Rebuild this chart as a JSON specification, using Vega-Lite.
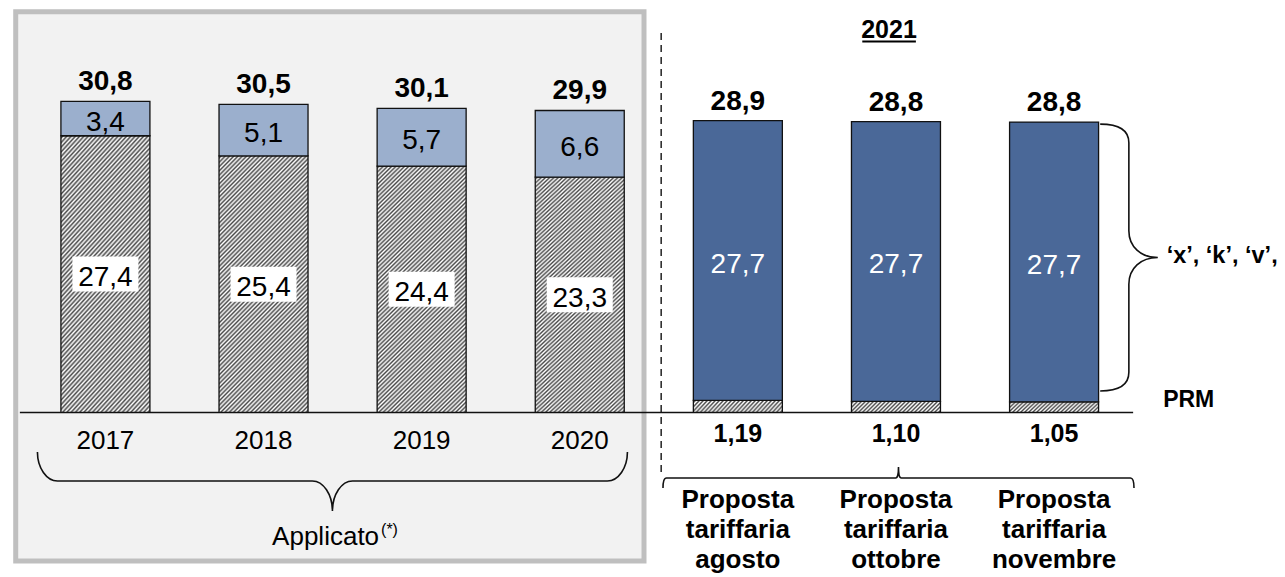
{
"$schema": "https://vega.github.io/schema/vega-lite/v6.json",
"width": 1285, "height": 577,
"autosize": {"type": "fit", "contains": "padding"},
"padding": 0,
"background": "white",
"config": {"view": {"stroke": null}, "font": "Liberation Sans", "axis": {"disable": true},
  "locale": {"number": {"decimal": ",", "thousands": ".", "grouping": [3], "currency": ["€", ""]}}},
"datasets": {
 "seg": [
  {"i":0,"part":"base","value":27.4},{"i":0,"part":"top","value":3.4},
  {"i":1,"part":"base","value":25.4},{"i":1,"part":"top","value":5.1},
  {"i":2,"part":"base","value":24.4},{"i":2,"part":"top","value":5.7},
  {"i":3,"part":"base","value":23.3},{"i":3,"part":"top","value":6.6},
  {"i":4,"part":"base","value":1.19},{"i":4,"part":"top","value":27.7},
  {"i":5,"part":"base","value":1.10},{"i":5,"part":"top","value":27.7},
  {"i":6,"part":"base","value":1.05},{"i":6,"part":"top","value":27.7}
 ],
 "tot": [
  {"i":0,"total":30.8,"name":"2017"},
  {"i":1,"total":30.5,"name":"2018"},
  {"i":2,"total":30.1,"name":"2019"},
  {"i":3,"total":29.9,"name":"2020"},
  {"i":4,"total":28.9,"name":"Proposta\ntariffaria\nagosto"},
  {"i":5,"total":28.8,"name":"Proposta\ntariffaria\nottobre"},
  {"i":6,"total":28.8,"name":"Proposta\ntariffaria\nnovembre"}
 ]
},
"layer": [
 {
  "data": {"values": [{}]},
  "mark": {"type": "rect", "fill": "#f2f2f2", "stroke": "#bfbfbf", "strokeWidth": 5},
  "encoding": {
   "x": {"datum": -0.5673, "type": "quantitative", "scale": {"domain": [-0.6351, 7.4289], "nice": false, "zero": false}, "axis": null},
   "x2": {"datum": 3.4064},
   "y": {"datum": 39.68, "type": "quantitative", "scale": {"domain": [-16.29, 40.84], "nice": false, "zero": false}, "axis": null},
   "y2": {"datum": -14.70}
  }
 },
 {
  "data": {"values": [{}]},
  "mark": {"type": "rule", "stroke": "#222", "strokeWidth": 1.5, "strokeDash": [7, 5]},
  "encoding": {
   "x": {"datum": 3.515, "type": "quantitative", "scale": {"domain": [-0.6351, 7.4289], "nice": false, "zero": false}, "axis": null},
   "y": {"datum": 37.57, "type": "quantitative", "scale": {"domain": [-16.29, 40.84], "nice": false, "zero": false}, "axis": null},
   "y2": {"datum": -6.29}
  }
 },
 {
  "data": {"values": [{}]},
  "mark": {"type": "rule", "stroke": "#111", "strokeWidth": 1.5},
  "encoding": {
   "x": {"datum": -0.541, "type": "quantitative", "scale": {"domain": [-0.6351, 7.4289], "nice": false, "zero": false}, "axis": null},
   "x2": {"datum": 6.5},
   "y": {"datum": 0, "type": "quantitative", "scale": {"domain": [-16.29, 40.84], "nice": false, "zero": false}, "axis": null}
  }
 },
 {
  "data": {"name": "seg"},
  "mark": {"type": "bar", "width": 89, "stroke": "#111", "strokeWidth": 1.3},
  "encoding": {
   "x": {"field": "i", "type": "quantitative", "scale": {"domain": [-0.6351, 7.4289], "nice": false, "zero": false}, "axis": null},
   "y": {"field": "value", "type": "quantitative", "stack": "zero", "scale": {"domain": [-16.29, 40.84], "nice": false, "zero": false}, "axis": null},
   "detail": {"field": "part"},
   "order": {"field": "part", "type": "ordinal", "sort": "ascending"},
   "fill": {
    "condition": [
     {"test": "datum.part == 'base' && datum.i < 4", "value": {"gradient": "linear", "x1": 0, "y1": 0, "x2": 0.4246, "y2": 1.203, "stops": [
{"offset":0,"color":"#fff"},{"offset":0.00625,"color":"#4a4a4a"},{"offset":0.0125,"color":"#fff"},{"offset":0.01875,"color":"#4a4a4a"},{"offset":0.025,"color":"#fff"},{"offset":0.03125,"color":"#4a4a4a"},{"offset":0.0375,"color":"#fff"},{"offset":0.04375,"color":"#4a4a4a"},
{"offset":0.05,"color":"#fff"},{"offset":0.05625,"color":"#4a4a4a"},{"offset":0.0625,"color":"#fff"},{"offset":0.06875,"color":"#4a4a4a"},{"offset":0.075,"color":"#fff"},{"offset":0.08125,"color":"#4a4a4a"},{"offset":0.0875,"color":"#fff"},{"offset":0.09375,"color":"#4a4a4a"},
{"offset":0.1,"color":"#fff"},{"offset":0.10625,"color":"#4a4a4a"},{"offset":0.1125,"color":"#fff"},{"offset":0.11875,"color":"#4a4a4a"},{"offset":0.125,"color":"#fff"},{"offset":0.13125,"color":"#4a4a4a"},{"offset":0.1375,"color":"#fff"},{"offset":0.14375,"color":"#4a4a4a"},
{"offset":0.15,"color":"#fff"},{"offset":0.15625,"color":"#4a4a4a"},{"offset":0.1625,"color":"#fff"},{"offset":0.16875,"color":"#4a4a4a"},{"offset":0.175,"color":"#fff"},{"offset":0.18125,"color":"#4a4a4a"},{"offset":0.1875,"color":"#fff"},{"offset":0.19375,"color":"#4a4a4a"},
{"offset":0.2,"color":"#fff"},{"offset":0.20625,"color":"#4a4a4a"},{"offset":0.2125,"color":"#fff"},{"offset":0.21875,"color":"#4a4a4a"},{"offset":0.225,"color":"#fff"},{"offset":0.23125,"color":"#4a4a4a"},{"offset":0.2375,"color":"#fff"},{"offset":0.24375,"color":"#4a4a4a"},
{"offset":0.25,"color":"#fff"},{"offset":0.25625,"color":"#4a4a4a"},{"offset":0.2625,"color":"#fff"},{"offset":0.26875,"color":"#4a4a4a"},{"offset":0.275,"color":"#fff"},{"offset":0.28125,"color":"#4a4a4a"},{"offset":0.2875,"color":"#fff"},{"offset":0.29375,"color":"#4a4a4a"},
{"offset":0.3,"color":"#fff"},{"offset":0.30625,"color":"#4a4a4a"},{"offset":0.3125,"color":"#fff"},{"offset":0.31875,"color":"#4a4a4a"},{"offset":0.325,"color":"#fff"},{"offset":0.33125,"color":"#4a4a4a"},{"offset":0.3375,"color":"#fff"},{"offset":0.34375,"color":"#4a4a4a"},
{"offset":0.35,"color":"#fff"},{"offset":0.35625,"color":"#4a4a4a"},{"offset":0.3625,"color":"#fff"},{"offset":0.36875,"color":"#4a4a4a"},{"offset":0.375,"color":"#fff"},{"offset":0.38125,"color":"#4a4a4a"},{"offset":0.3875,"color":"#fff"},{"offset":0.39375,"color":"#4a4a4a"},
{"offset":0.4,"color":"#fff"},{"offset":0.40625,"color":"#4a4a4a"},{"offset":0.4125,"color":"#fff"},{"offset":0.41875,"color":"#4a4a4a"},{"offset":0.425,"color":"#fff"},{"offset":0.43125,"color":"#4a4a4a"},{"offset":0.4375,"color":"#fff"},{"offset":0.44375,"color":"#4a4a4a"},
{"offset":0.45,"color":"#fff"},{"offset":0.45625,"color":"#4a4a4a"},{"offset":0.4625,"color":"#fff"},{"offset":0.46875,"color":"#4a4a4a"},{"offset":0.475,"color":"#fff"},{"offset":0.48125,"color":"#4a4a4a"},{"offset":0.4875,"color":"#fff"},{"offset":0.49375,"color":"#4a4a4a"},
{"offset":0.5,"color":"#fff"},{"offset":0.50625,"color":"#4a4a4a"},{"offset":0.5125,"color":"#fff"},{"offset":0.51875,"color":"#4a4a4a"},{"offset":0.525,"color":"#fff"},{"offset":0.53125,"color":"#4a4a4a"},{"offset":0.5375,"color":"#fff"},{"offset":0.54375,"color":"#4a4a4a"},
{"offset":0.55,"color":"#fff"},{"offset":0.55625,"color":"#4a4a4a"},{"offset":0.5625,"color":"#fff"},{"offset":0.56875,"color":"#4a4a4a"},{"offset":0.575,"color":"#fff"},{"offset":0.58125,"color":"#4a4a4a"},{"offset":0.5875,"color":"#fff"},{"offset":0.59375,"color":"#4a4a4a"},
{"offset":0.6,"color":"#fff"},{"offset":0.60625,"color":"#4a4a4a"},{"offset":0.6125,"color":"#fff"},{"offset":0.61875,"color":"#4a4a4a"},{"offset":0.625,"color":"#fff"},{"offset":0.63125,"color":"#4a4a4a"},{"offset":0.6375,"color":"#fff"},{"offset":0.64375,"color":"#4a4a4a"},
{"offset":0.65,"color":"#fff"},{"offset":0.65625,"color":"#4a4a4a"},{"offset":0.6625,"color":"#fff"},{"offset":0.66875,"color":"#4a4a4a"},{"offset":0.675,"color":"#fff"},{"offset":0.68125,"color":"#4a4a4a"},{"offset":0.6875,"color":"#fff"},{"offset":0.69375,"color":"#4a4a4a"},
{"offset":0.7,"color":"#fff"},{"offset":0.70625,"color":"#4a4a4a"},{"offset":0.7125,"color":"#fff"},{"offset":0.71875,"color":"#4a4a4a"},{"offset":0.725,"color":"#fff"},{"offset":0.73125,"color":"#4a4a4a"},{"offset":0.7375,"color":"#fff"},{"offset":0.74375,"color":"#4a4a4a"},
{"offset":0.75,"color":"#fff"},{"offset":0.75625,"color":"#4a4a4a"},{"offset":0.7625,"color":"#fff"},{"offset":0.76875,"color":"#4a4a4a"},{"offset":0.775,"color":"#fff"},{"offset":0.78125,"color":"#4a4a4a"},{"offset":0.7875,"color":"#fff"},{"offset":0.79375,"color":"#4a4a4a"},
{"offset":0.8,"color":"#fff"},{"offset":0.80625,"color":"#4a4a4a"},{"offset":0.8125,"color":"#fff"},{"offset":0.81875,"color":"#4a4a4a"},{"offset":0.825,"color":"#fff"},{"offset":0.83125,"color":"#4a4a4a"},{"offset":0.8375,"color":"#fff"},{"offset":0.84375,"color":"#4a4a4a"},
{"offset":0.85,"color":"#fff"},{"offset":0.85625,"color":"#4a4a4a"},{"offset":0.8625,"color":"#fff"},{"offset":0.86875,"color":"#4a4a4a"},{"offset":0.875,"color":"#fff"},{"offset":0.88125,"color":"#4a4a4a"},{"offset":0.8875,"color":"#fff"},{"offset":0.89375,"color":"#4a4a4a"},
{"offset":0.9,"color":"#fff"},{"offset":0.90625,"color":"#4a4a4a"},{"offset":0.9125,"color":"#fff"},{"offset":0.91875,"color":"#4a4a4a"},{"offset":0.925,"color":"#fff"},{"offset":0.93125,"color":"#4a4a4a"},{"offset":0.9375,"color":"#fff"},{"offset":0.94375,"color":"#4a4a4a"},
{"offset":0.95,"color":"#fff"},{"offset":0.95625,"color":"#4a4a4a"},{"offset":0.9625,"color":"#fff"},{"offset":0.96875,"color":"#4a4a4a"},{"offset":0.975,"color":"#fff"},{"offset":0.98125,"color":"#4a4a4a"},{"offset":0.9875,"color":"#fff"},{"offset":0.99375,"color":"#4a4a4a"},
{"offset":1,"color":"#fff"}]}},
     {"test": "datum.part == 'base'", "value": {"gradient": "linear", "x1": 0, "y1": 0, "x2": 1.108, "y2": 0.1392, "stops": [
{"offset":0,"color":"#fff"},{"offset":0.02,"color":"#4a4a4a"},{"offset":0.04,"color":"#fff"},{"offset":0.06,"color":"#4a4a4a"},{"offset":0.08,"color":"#fff"},{"offset":0.1,"color":"#4a4a4a"},{"offset":0.12,"color":"#fff"},{"offset":0.14,"color":"#4a4a4a"},{"offset":0.16,"color":"#fff"},{"offset":0.18,"color":"#4a4a4a"},
{"offset":0.2,"color":"#fff"},{"offset":0.22,"color":"#4a4a4a"},{"offset":0.24,"color":"#fff"},{"offset":0.26,"color":"#4a4a4a"},{"offset":0.28,"color":"#fff"},{"offset":0.3,"color":"#4a4a4a"},{"offset":0.32,"color":"#fff"},{"offset":0.34,"color":"#4a4a4a"},{"offset":0.36,"color":"#fff"},{"offset":0.38,"color":"#4a4a4a"},
{"offset":0.4,"color":"#fff"},{"offset":0.42,"color":"#4a4a4a"},{"offset":0.44,"color":"#fff"},{"offset":0.46,"color":"#4a4a4a"},{"offset":0.48,"color":"#fff"},{"offset":0.5,"color":"#4a4a4a"},{"offset":0.52,"color":"#fff"},{"offset":0.54,"color":"#4a4a4a"},{"offset":0.56,"color":"#fff"},{"offset":0.58,"color":"#4a4a4a"},
{"offset":0.6,"color":"#fff"},{"offset":0.62,"color":"#4a4a4a"},{"offset":0.64,"color":"#fff"},{"offset":0.66,"color":"#4a4a4a"},{"offset":0.68,"color":"#fff"},{"offset":0.7,"color":"#4a4a4a"},{"offset":0.72,"color":"#fff"},{"offset":0.74,"color":"#4a4a4a"},{"offset":0.76,"color":"#fff"},{"offset":0.78,"color":"#4a4a4a"},
{"offset":0.8,"color":"#fff"},{"offset":0.82,"color":"#4a4a4a"},{"offset":0.84,"color":"#fff"},{"offset":0.86,"color":"#4a4a4a"},{"offset":0.88,"color":"#fff"},{"offset":0.9,"color":"#4a4a4a"},{"offset":0.92,"color":"#fff"},{"offset":0.94,"color":"#4a4a4a"},{"offset":0.96,"color":"#fff"},{"offset":0.98,"color":"#4a4a4a"},
{"offset":1,"color":"#fff"}]}},
     {"test": "datum.i < 4", "value": "#9bafcd"}
    ],
    "value": "#4a6898"
   }
  }
 },
 {
  "data": {"name": "seg"},
  "transform": [{"filter": "datum.part == 'base' && datum.i < 4"}],
  "mark": {"type": "point", "shape": "M -1 -0.53 L 1 -0.53 L 1 0.53 L -1 0.53 Z", "size": 4356, "filled": true, "color": "white", "opacity": 1, "strokeWidth": 0},
  "encoding": {
   "x": {"field": "i", "type": "quantitative", "scale": {"domain": [-0.6351, 7.4289], "nice": false, "zero": false}, "axis": null},
   "y": {"field": "value", "type": "quantitative", "stack": "zero", "bandPosition": 0.5, "scale": {"domain": [-16.29, 40.84], "nice": false, "zero": false}, "axis": null},
   "detail": {"field": "part"}
  }
 },
 {
  "data": {"name": "seg"},
  "mark": {"type": "text", "fontSize": 28, "baseline": "middle", "align": "center", "dy": 4},
  "encoding": {
   "x": {"field": "i", "type": "quantitative", "scale": {"domain": [-0.6351, 7.4289], "nice": false, "zero": false}, "axis": null},
   "y": {"field": "value", "type": "quantitative", "stack": "zero", "bandPosition": 0.5, "scale": {"domain": [-16.29, 40.84], "nice": false, "zero": false}, "axis": null},
   "detail": {"field": "part"},
   "order": {"field": "part", "type": "ordinal", "sort": "ascending"},
   "text": {"condition": {"test": "datum.part == 'base' && datum.i >= 4", "value": ""}, "field": "value", "type": "quantitative", "format": ".1f"},
   "color": {"condition": {"test": "datum.i >= 4", "value": "white"}, "value": "black"}
  }
 },
 {
  "data": {"name": "tot"},
  "mark": {"type": "text", "fontSize": 28, "fontWeight": "bold", "baseline": "alphabetic", "align": "center", "dy": -11, "color": "black"},
  "encoding": {
   "x": {"field": "i", "type": "quantitative", "scale": {"domain": [-0.6351, 7.4289], "nice": false, "zero": false}, "axis": null},
   "y": {"field": "total", "type": "quantitative", "scale": {"domain": [-16.29, 40.84], "nice": false, "zero": false}, "axis": null},
   "text": {"field": "total", "type": "quantitative", "format": ".1f"}
  }
 },
 {
  "data": {"name": "tot"},
  "transform": [{"filter": "datum.i < 4"}],
  "mark": {"type": "text", "fontSize": 26, "baseline": "alphabetic", "align": "center", "color": "black"},
  "encoding": {
   "x": {"field": "i", "type": "quantitative", "scale": {"domain": [-0.6351, 7.4289], "nice": false, "zero": false}, "axis": null},
   "y": {"datum": -3.615, "type": "quantitative", "scale": {"domain": [-16.29, 40.84], "nice": false, "zero": false}, "axis": null},
   "text": {"field": "name"}
  }
 },
 {
  "data": {"name": "tot"},
  "transform": [{"filter": "datum.i >= 4"}],
  "mark": {"type": "text", "fontSize": 26, "fontWeight": "bold", "baseline": "alphabetic", "align": "center", "lineBreak": "\n", "lineHeight": 30, "color": "black"},
  "encoding": {
   "x": {"field": "i", "type": "quantitative", "scale": {"domain": [-0.6351, 7.4289], "nice": false, "zero": false}, "axis": null},
   "y": {"datum": -9.49, "type": "quantitative", "scale": {"domain": [-16.29, 40.84], "nice": false, "zero": false}, "axis": null},
   "text": {"field": "name"}
  }
 },
 {
  "data": {"name": "seg"},
  "transform": [{"filter": "datum.part == 'base' && datum.i >= 4"}],
  "mark": {"type": "text", "fontSize": 25, "fontWeight": "bold", "baseline": "alphabetic", "align": "center", "color": "black"},
  "encoding": {
   "x": {"field": "i", "type": "quantitative", "scale": {"domain": [-0.6351, 7.4289], "nice": false, "zero": false}, "axis": null},
   "y": {"datum": -2.97, "type": "quantitative", "scale": {"domain": [-16.29, 40.84], "nice": false, "zero": false}, "axis": null},
   "text": {"field": "value", "type": "quantitative", "format": ".2f"}
  }
 },
 {
  "data": {"values": [{}]},
  "mark": {"type": "point", "shape": "M -1 -0.098 C -1 -0.044 -0.969 0 -0.932 0 L -0.068 0 C -0.031 0 0 0.046 0 0.102 C 0 0.046 0.031 0 0.068 0 L 0.932 0 C 0.969 0 1 -0.044 1 -0.098", "size": 348100, "filled": false, "stroke": "#111", "strokeWidth": 1.6, "opacity": 1},
  "encoding": {
   "x": {"datum": 1.4358, "type": "quantitative", "scale": {"domain": [-0.6351, 7.4289], "nice": false, "zero": false}, "axis": null},
   "y": {"datum": -6.78, "type": "quantitative", "scale": {"domain": [-16.29, 40.84], "nice": false, "zero": false}, "axis": null}
  }
 },
 {
  "data": {"values": [{}]},
  "mark": {"type": "point", "shape": "M -1 0.0425 C -1 0.015 -0.995 0 -0.985 0 L -0.012 0 C -0.004 0 0 -0.015 0 -0.0467 C 0 -0.015 0.004 0 0.012 0 L 0.985 0 C 0.995 0 1 0.015 1 0.0425", "size": 221841, "filled": false, "stroke": "#111", "strokeWidth": 1.6, "opacity": 1},
  "encoding": {
   "x": {"datum": 5.016, "type": "quantitative", "scale": {"domain": [-0.6351, 7.4289], "nice": false, "zero": false}, "axis": null},
   "y": {"datum": -6.49, "type": "quantitative", "scale": {"domain": [-16.29, 40.84], "nice": false, "zero": false}, "axis": null}
  }
 },
 {
  "data": {"values": [{}]},
  "mark": {"type": "point", "shape": "M -0.215 -1 C -0.07 -1 0 -0.95 0 -0.86 L 0 -0.2 C 0 -0.08 0.09 0 0.217 0 C 0.09 0 0 0.08 0 0.2 L 0 0.86 C 0 0.95 -0.07 1 -0.215 1", "size": 71182, "filled": false, "stroke": "#111", "strokeWidth": 1.6, "opacity": 1},
  "encoding": {
   "x": {"datum": 6.473, "type": "quantitative", "scale": {"domain": [-0.6351, 7.4289], "nice": false, "zero": false}, "axis": null},
   "y": {"datum": 15.34, "type": "quantitative", "scale": {"domain": [-16.29, 40.84], "nice": false, "zero": false}, "axis": null}
  }
 },
 {
  "data": {"values": [{"t": "Applicato"}]},
  "mark": {"type": "text", "fontSize": 26, "align": "right", "baseline": "alphabetic", "color": "black"},
  "encoding": {
   "x": {"datum": 1.7308, "type": "quantitative", "scale": {"domain": [-0.6351, 7.4289], "nice": false, "zero": false}, "axis": null},
   "y": {"datum": -13.12, "type": "quantitative", "scale": {"domain": [-16.29, 40.84], "nice": false, "zero": false}, "axis": null},
   "text": {"field": "t"}
  }
 },
 {
  "data": {"values": [{"t": "(*)"}]},
  "mark": {"type": "text", "fontSize": 16, "align": "left", "baseline": "alphabetic", "color": "black"},
  "encoding": {
   "x": {"datum": 1.7433, "type": "quantitative", "scale": {"domain": [-0.6351, 7.4289], "nice": false, "zero": false}, "axis": null},
   "y": {"datum": -12.13, "type": "quantitative", "scale": {"domain": [-16.29, 40.84], "nice": false, "zero": false}, "axis": null},
   "text": {"field": "t"}
  }
 },
 {
  "data": {"values": [{"t": "2021"}]},
  "mark": {"type": "text", "fontSize": 25, "fontWeight": "bold", "align": "center", "baseline": "alphabetic", "color": "black"},
  "encoding": {
   "x": {"datum": 4.956, "type": "quantitative", "scale": {"domain": [-0.6351, 7.4289], "nice": false, "zero": false}, "axis": null},
   "y": {"datum": 37.08, "type": "quantitative", "scale": {"domain": [-16.29, 40.84], "nice": false, "zero": false}, "axis": null},
   "text": {"field": "t"}
  }
 },
 {
  "data": {"values": [{}]},
  "mark": {"type": "rule", "stroke": "black", "strokeWidth": 2},
  "encoding": {
   "x": {"datum": 4.787, "type": "quantitative", "scale": {"domain": [-0.6351, 7.4289], "nice": false, "zero": false}, "axis": null},
   "x2": {"datum": 5.126},
   "y": {"datum": 36.73, "type": "quantitative", "scale": {"domain": [-16.29, 40.84], "nice": false, "zero": false}, "axis": null}
  }
 },
 {
  "data": {"values": [{"t": "‘x’, ‘k’, ‘v’,"}]},
  "mark": {"type": "text", "fontSize": 23.5, "fontWeight": "bold", "align": "left", "baseline": "alphabetic", "color": "black"},
  "encoding": {
   "x": {"datum": 6.712, "type": "quantitative", "scale": {"domain": [-0.6351, 7.4289], "nice": false, "zero": false}, "axis": null},
   "y": {"datum": 14.77, "type": "quantitative", "scale": {"domain": [-16.29, 40.84], "nice": false, "zero": false}, "axis": null},
   "text": {"field": "t"}
  }
 },
 {
  "data": {"values": [{"t": "PRM"}]},
  "mark": {"type": "text", "fontSize": 23, "fontWeight": "bold", "align": "left", "baseline": "alphabetic", "color": "black"},
  "encoding": {
   "x": {"datum": 6.690, "type": "quantitative", "scale": {"domain": [-0.6351, 7.4289], "nice": false, "zero": false}, "axis": null},
   "y": {"datum": 0.57, "type": "quantitative", "scale": {"domain": [-16.29, 40.84], "nice": false, "zero": false}, "axis": null},
   "text": {"field": "t"}
  }
 }
]
}
